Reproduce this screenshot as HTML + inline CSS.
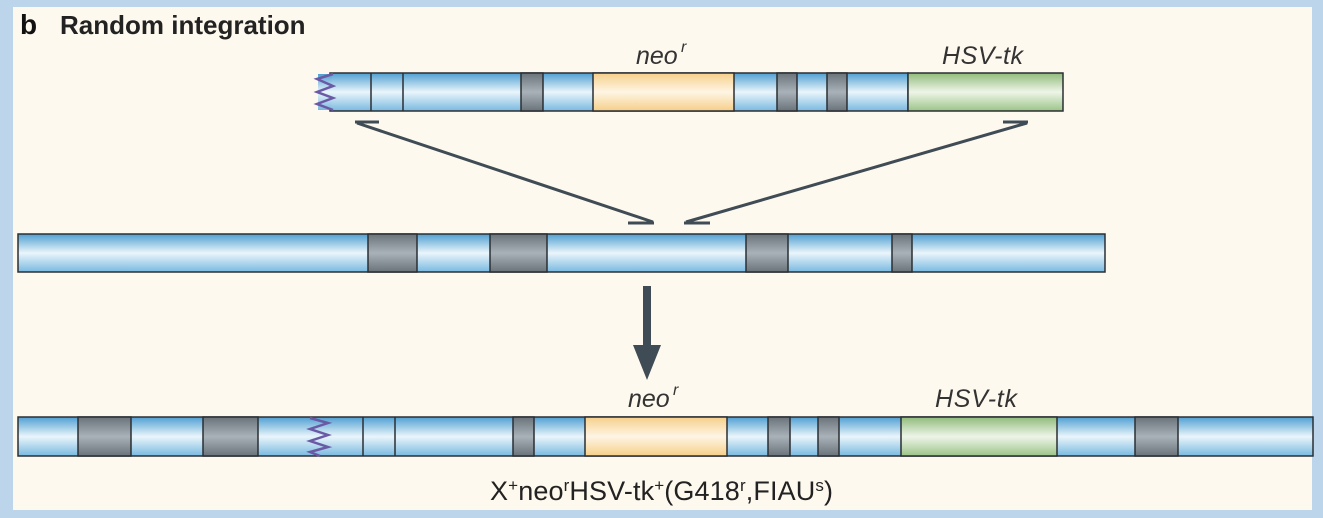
<!DOCTYPE html>
<html><head><meta charset="utf-8"><style>
html,body{margin:0;padding:0;background:#bdd5ea;}
svg{display:block;}
text{font-family:"Liberation Sans",Arial,sans-serif;}
</style></head><body>
<svg width="1323" height="518" viewBox="0 0 1323 518" xmlns="http://www.w3.org/2000/svg">
<defs>
<linearGradient id="gb" x1="0" y1="0" x2="0" y2="1">
<stop offset="0" stop-color="#4f9fd2"/><stop offset="0.5" stop-color="#eaf5fb"/><stop offset="1" stop-color="#79b9e0"/></linearGradient>
<linearGradient id="gd" x1="0" y1="0" x2="0" y2="1">
<stop offset="0" stop-color="#6a737a"/><stop offset="0.5" stop-color="#a9b2b8"/><stop offset="1" stop-color="#6a737a"/></linearGradient>
<linearGradient id="go" x1="0" y1="0" x2="0" y2="1">
<stop offset="0" stop-color="#f6cf8a"/><stop offset="0.5" stop-color="#fef5e4"/><stop offset="1" stop-color="#f6cf8a"/></linearGradient>
<linearGradient id="gg" x1="0" y1="0" x2="0" y2="1">
<stop offset="0" stop-color="#8fbb7a"/><stop offset="0.5" stop-color="#eef5e8"/><stop offset="1" stop-color="#9cc488"/></linearGradient>
</defs>
<rect x="13" y="7" width="1299" height="503" fill="#fef9ee"/>
<text x="20" y="34" font-size="28" font-weight="bold" fill="#111">b</text>
<text x="60" y="34" font-size="26" font-weight="bold" fill="#222">Random integration</text>

<!-- top construct -->
<g stroke="#2a2f33" stroke-width="1.5">
<rect x="330" y="73" width="578" height="38" fill="url(#gb)"/>
<rect x="521" y="73" width="22" height="38" fill="url(#gd)"/>
<rect x="593" y="73" width="141" height="38" fill="url(#go)"/>
<rect x="777" y="73" width="20" height="38" fill="url(#gd)"/>
<rect x="827" y="73" width="20" height="38" fill="url(#gd)"/>
<rect x="908" y="73" width="155" height="38" fill="url(#gg)"/>
<line x1="371" y1="73" x2="371" y2="111"/><line x1="403" y1="73" x2="403" y2="111"/>
</g>
<rect x="318" y="74" width="14" height="36" fill="url(#gb)"/>
<polyline points="333,74 317,79 333,86 317,92 333,98 317,104 333,110" fill="none" stroke="#6a5aa6" stroke-width="2.5"/>
<text x="636" y="64" font-size="25" font-style="italic" fill="#333">neo</text>
<text x="681" y="52" font-size="16" font-style="italic" fill="#333">r</text>
<text x="942" y="64" font-size="25" font-style="italic" fill="#333" textLength="81">HSV-tk</text>

<!-- converging lines -->
<g stroke="#404c55" stroke-width="3" fill="none">
<line x1="357" y1="123" x2="653" y2="222"/>
<line x1="1027" y1="123" x2="686" y2="222"/>
<line x1="355" y1="122" x2="379" y2="122"/>
<line x1="1003" y1="122" x2="1028" y2="122"/>
<line x1="628" y1="223" x2="654" y2="223"/>
<line x1="684" y1="223" x2="710" y2="223"/>
</g>

<!-- middle chromosome -->
<g stroke="#2a2f33" stroke-width="1.5">
<rect x="18" y="234" width="1087" height="38" fill="url(#gb)"/>
<rect x="368" y="234" width="49" height="38" fill="url(#gd)"/>
<rect x="490" y="234" width="57" height="38" fill="url(#gd)"/>
<rect x="746" y="234" width="42" height="38" fill="url(#gd)"/>
<rect x="892" y="234" width="20" height="38" fill="url(#gd)"/>
</g>

<!-- down arrow -->
<rect x="643" y="286" width="8" height="62" fill="#404c55"/>
<polygon points="633,345 661,345 647,380" fill="#404c55"/>

<!-- bottom -->
<g stroke="#2a2f33" stroke-width="1.5">
<rect x="18" y="417" width="1295" height="39" fill="url(#gb)"/>
<rect x="78" y="417" width="53" height="39" fill="url(#gd)"/>
<rect x="203" y="417" width="55" height="39" fill="url(#gd)"/>
<rect x="513" y="417" width="21" height="39" fill="url(#gd)"/>
<rect x="585" y="417" width="142" height="39" fill="url(#go)"/>
<rect x="768" y="417" width="22" height="39" fill="url(#gd)"/>
<rect x="818" y="417" width="21" height="39" fill="url(#gd)"/>
<rect x="901" y="417" width="156" height="39" fill="url(#gg)"/>
<rect x="1135" y="417" width="43" height="39" fill="url(#gd)"/>
<line x1="363" y1="417" x2="363" y2="456"/><line x1="395" y1="417" x2="395" y2="456"/>
</g>
<polyline points="310,418 328,423 310,429 328,435 310,441 328,447 310,452 320,456" fill="none" stroke="#6a5aa6" stroke-width="2.5"/>
<text x="628" y="407" font-size="25" font-style="italic" fill="#333">neo</text>
<text x="673" y="395" font-size="16" font-style="italic" fill="#333">r</text>
<text x="935" y="407" font-size="25" font-style="italic" fill="#333" textLength="82">HSV-tk</text>

<text x="490" y="500" font-size="27" fill="#222" textLength="343">X<tspan dy="-9" font-size="17">+</tspan><tspan dy="9">neo</tspan><tspan dy="-9" font-size="17">r</tspan><tspan dy="9">HSV-tk</tspan><tspan dy="-9" font-size="17">+</tspan><tspan dy="9">(G418</tspan><tspan dy="-9" font-size="17">r</tspan><tspan dy="9">,FIAU</tspan><tspan dy="-9" font-size="17">s</tspan><tspan dy="9">)</tspan></text>
</svg>
</body></html>
